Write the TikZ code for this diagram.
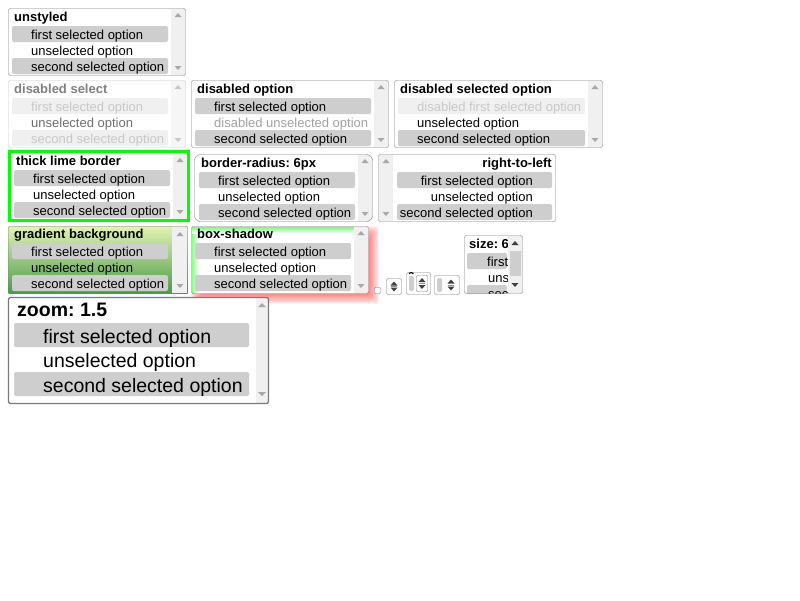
\documentclass[tikz,border=0pt]{standalone}
\usepackage{fontspec}
\setmainfont{Liberation Sans}
\frenchspacing
\definecolor{bgray}{HTML}{7A7A7A}
\definecolor{lgray}{HTML}{C8C8C8}
\definecolor{sbg}{HTML}{F0F0F0}
\definecolor{selg}{HTML}{CECECE}
\definecolor{arrg}{HTML}{A8A8A8}
\definecolor{darr}{HTML}{404040}
\definecolor{lime}{HTML}{00FF00}
\definecolor{gtop}{HTML}{E2F2B2}
\definecolor{gbot}{HTML}{4A9A46}
\newcommand\fs{\fontsize{13}{15}\selectfont}
\newcommand\fz{\fontsize{19.5}{22}\selectfont}
\tikzset{
  txt/.style={anchor=base west, inner sep=0pt, font=\fs},
  rtxt/.style={anchor=base east, inner sep=0pt, font=\fs},
  ttl/.style={anchor=base west, inner sep=0pt, font=\fs\bfseries},
  rttl/.style={anchor=base east, inner sep=0pt, font=\fs\bfseries},
  selbar/.style={fill=selg, rounded corners=2pt},
  lbar/.style={fill=sbg, rounded corners=2pt},
  frm/.style={draw=bgray, rounded corners=2pt},
}
\newcommand\uparr[3][arrg]{\fill[#1] (#2-3.5,#3+2) -- (#2+3.5,#3+2) -- (#2,#3-2) -- cycle;}
\newcommand\dnarr[3][arrg]{\fill[#1] (#2-3.5,#3-2) -- (#2+3.5,#3-2) -- (#2,#3+2) -- cycle;}
% frame with scrollbar on the right
\newcommand\listbox[5][bgray]{%
  \fill[white, rounded corners=2pt] (#2+0.5,#3+0.5) rectangle (#4-0.5,#5-0.5);
  \fill[sbg] (#4-15,#3+1) rectangle (#4-1,#5-1);
  \draw[#1, rounded corners=2pt] (#2+0.5,#3+0.5) rectangle (#4-0.5,#5-0.5);
  \uparr{#4-8}{#3+7}
  \dnarr{#4-8}{#5-8}
}
\newcommand\rows[6]{%
  \node[ttl] at (#1,#2-5) {#6};
  \fill[selbar] (#3,#2) rectangle (#4,#2+16);
  \node[txt] at (#5,#2+13) {first selected option};
  \node[txt] at (#5,#2+29) {unselected option};
  \fill[selbar] (#3,#2+32) rectangle (#4,#2+48);
  \node[txt] at (#5,#2+45) {second selected option};
}
\begin{document}
\begin{tikzpicture}[x=1pt,y=-1pt]
\useasboundingbox[fill=white] (0,0) rectangle (800,600);

% ---------- box-shadow outer red glow (drawn first) ----------
\foreach \k in {-5,...,5} {
  \fill[red, opacity=0.055, rounded corners=3pt] (196-\k,231-\k) rectangle (374+\k,299+\k);
}

% ---------- unstyled ----------
\listbox{8}{8}{186}{76}
\rows{14}{26}{12}{168}{31}{unstyled}

% ---------- disabled select ----------
\fill[white] (8.5,80.5) rectangle (185.5,147.5);
\fill[sbg!60] (171,81) rectangle (185,147);
\draw[lgray, rounded corners=2pt] (8.5,80.5) rectangle (185.5,147.5);
\uparr[lgray]{178}{87}
\dnarr[lgray]{178}{140}
\node[ttl, text=black!50] at (14,93) {disabled select};
\fill[lbar] (12,98) rectangle (168,114);
\node[txt, text=lgray] at (31,111) {first selected option};
\node[txt, text=black!57] at (31,127) {unselected option};
\fill[lbar] (12,130) rectangle (168,146);
\node[txt, text=lgray] at (31,143) {second selected option};

% ---------- disabled option ----------
\listbox{191}{80}{389}{148}
\node[ttl] at (197,93) {disabled option};
\fill[selbar] (195,98) rectangle (371,114);
\node[txt] at (214,111) {first selected option};
\node[txt, text=black!37] at (214,127) {disabled unselected option};
\fill[selbar] (195,130) rectangle (371,146);
\node[txt] at (214,143) {second selected option};

% ---------- disabled selected option ----------
\listbox{394}{80}{603}{148}
\node[ttl] at (400,93) {disabled selected option};
\fill[lbar] (398,98) rectangle (585,114);
\node[txt, text=lgray] at (417,111) {disabled first selected option};
\node[txt] at (417,127) {unselected option};
\fill[selbar] (398,130) rectangle (585,146);
\node[txt] at (417,143) {second selected option};

% ---------- thick lime border ----------
\fill[white] (9.5,151.5) rectangle (188.5,220.5);
\fill[sbg] (173,153) rectangle (187,219);
\draw[lime, line width=3pt] (9.5,151.5) rectangle (188.5,220.5);
\uparr{180}{160}
\dnarr{180}{212}
\rows{16}{170}{14}{170}{33}{thick lime border}

% ---------- border-radius: 6px ----------
\fill[white, rounded corners=6pt] (194.5,154.5) rectangle (372.5,221.5);
\begin{scope}
  \clip[rounded corners=6pt] (194.5,154.5) rectangle (372.5,221.5);
  \fill[sbg] (358,155) rectangle (372,221);
\end{scope}
\draw[bgray, rounded corners=6pt] (194.5,154.5) rectangle (372.5,221.5);
\uparr{365}{161}
\dnarr{365}{214}
\rows{201}{172}{199}{355}{218}{border-radius: 6px}

% ---------- right-to-left ----------
\fill[white, rounded corners=2pt] (378.5,154.5) rectangle (555.5,221.5);
\fill[sbg] (379,155) rectangle (393,221);
\draw[bgray, rounded corners=2pt] (378.5,154.5) rectangle (555.5,221.5);
\uparr{386}{161}
\dnarr{386}{214}
\node[rttl] at (552,167) {right-to-left};
\fill[selbar] (397,172) rectangle (552,188);
\node[rtxt] at (533,185) {first selected option};
\node[rtxt] at (533,201) {unselected option};
\fill[selbar] (397,204) rectangle (552,220);
\node[rtxt] at (533,217) {second selected option};

% ---------- gradient background ----------
\shade[top color=gtop, bottom color=gbot] (8.5,226.5) rectangle (187.5,293.5);
\fill[sbg] (172,227) rectangle (187,293);
\draw[bgray, rounded corners=1pt] (8.5,226.5) rectangle (187.5,293.5);
\uparr{180}{234}
\dnarr{180}{286}
\rows{14}{243}{12}{168}{31}{gradient background}

% ---------- box-shadow (inset lime glow inside) ----------
\fill[white, rounded corners=2pt] (191.5,226.5) rectangle (368.5,293.5);
\shade[left color=lime!45, right color=white] (192,227) rectangle (199,293);
\shade[top color=lime!55, bottom color=white] (192,227) rectangle (354,233);
\fill[sbg] (354,227) rectangle (368,293);
\draw[bgray, rounded corners=2pt] (191.5,226.5) rectangle (368.5,293.5);
\uparr{361}{233}
\dnarr{361}{286}
\rows{197}{243}{195}{351}{214}{box-shadow}

% ---------- small widgets ----------
\draw[bgray, fill=white, rounded corners=1pt] (374.5,287.5) rectangle (380.5,293.5);
% spinner 1
\draw[bgray, fill=white, rounded corners=2pt] (386.5,278.5) rectangle (401.5,294.5);
\uparr[darr]{394}{283.5}
\draw[black!45] (391,286.5) -- (397,286.5);
\dnarr[darr]{394}{289.5}
% widget 2
\draw[bgray, fill=white, rounded corners=2pt] (406.5,272.5) rectangle (430.5,294.5);
\fill[selg, rounded corners=2pt] (409,276) rectangle (414,291);
\draw[black, line width=1.2pt] (409,273.5) .. controls (410,272) and (412,272.5) .. (413.5,273.5);
\draw[bgray, rounded corners=1pt] (416.5,275.5) rectangle (427.5,291.5);
\uparr[darr]{422}{280}
\draw[black!45] (419,283.5) -- (425,283.5);
\dnarr[darr]{422}{287}
% widget 3
\draw[bgray, fill=white, rounded corners=2pt] (434.5,275.5) rectangle (459.5,294.5);
\fill[selg, rounded corners=2pt] (437,278) rectangle (442,292);
\uparr[darr]{451}{281.5}
\draw[black!45] (448,285) -- (454,285);
\dnarr[darr]{451}{288.5}

% ---------- size: 6 ----------
\fill[white] (464.5,235.5) rectangle (522.5,293.5);
\begin{scope}
  \clip (465,236) rectangle (508,293);
  \node[ttl] at (469,248) {size: 6};
  \fill[selbar] (467,253) rectangle (507,269);
  \node[txt] at (487,266) {first selected option};
  \node[txt] at (488,282) {unselected option};
  \fill[selbar] (467,285) rectangle (507,301);
  \node[txt] at (488,298) {second selected option};
\end{scope}
\fill[sbg] (508,236) rectangle (522,293);
\fill[selg] (510,251) rectangle (521,276);
\uparr[darr]{515}{243}
\dnarr[darr]{515}{285}
\draw[bgray, rounded corners=2pt] (464.5,235.5) rectangle (522.5,293.5);

% ---------- zoom: 1.5 ----------
\fill[white] (8.5,297.5) rectangle (268.5,403.5);
\fill[sbg] (256,298) rectangle (268,403);
\draw[bgray, line width=1.3pt, rounded corners=2pt] (8.5,297.5) rectangle (268.5,403.5);
\fill[arrg] (258,307) -- (266,307) -- (262,303) -- cycle;
\fill[arrg] (258,392) -- (266,392) -- (262,396) -- cycle;
\node[anchor=base west, inner sep=0pt, font=\fz\bfseries] at (17,316) {zoom: 1.5};
\fill[selbar] (14,323) rectangle (249,347);
\node[anchor=base west, inner sep=0pt, font=\fz] at (43,343) {first selected option};
\node[anchor=base west, inner sep=0pt, font=\fz] at (43,367) {unselected option};
\fill[selbar] (14,372) rectangle (249,396);
\node[anchor=base west, inner sep=0pt, font=\fz] at (43,392) {second selected option};
\end{tikzpicture}
\end{document}
